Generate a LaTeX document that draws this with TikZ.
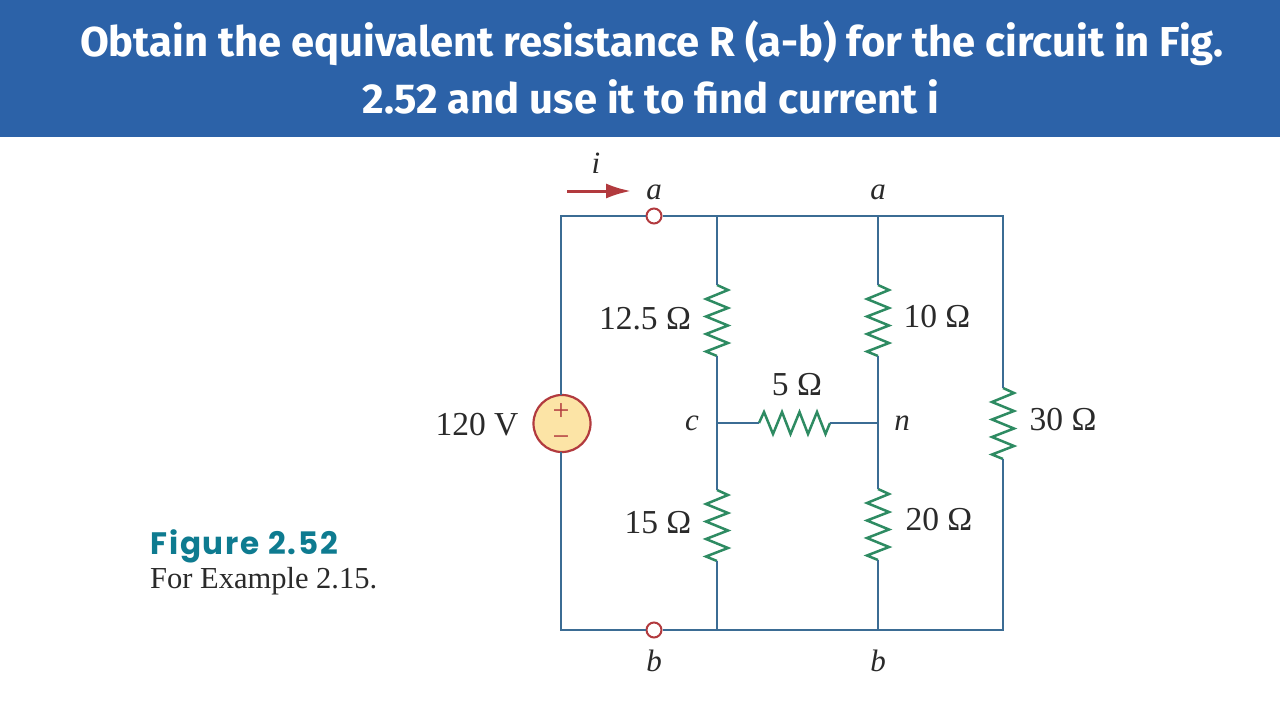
\documentclass[tikz,border=0pt]{standalone}
\usepackage{fontspec}
\setmainfont{Liberation Serif}
\newfontfamily\headfont{Fira Sans}
\newfontfamily\figfont[LetterSpace=6]{Poppins}
\usetikzlibrary{arrows.meta,positioning}
\definecolor{bandblue}{HTML}{2C62A8}
\definecolor{wireblue}{HTML}{3B6C94}
\definecolor{rstgreen}{HTML}{2E8B62}
\definecolor{srcred}{HTML}{B23A3E}
\definecolor{srcfill}{HTML}{FCE4A6}
\definecolor{figteal}{HTML}{0E7B90}
\definecolor{inktxt}{HTML}{2A2A2A}
\tikzset{
	wire/.style={draw=wireblue,line width=2.2pt,line join=miter},
	rstline/.style={draw=rstgreen,line width=2.5pt,line join=miter},
	headtxt/.style={text=white,inner sep=0pt,font=\headfont\bfseries\fontsize{41.8}{46}\selectfont},
	valtxt/.style={text=inktxt,inner sep=0pt,font=\fontsize{33.5}{38}\selectfont},
	nametxt/.style={text=inktxt,inner sep=0pt,font=\itshape\fontsize{31}{36}\selectfont},
	signtxt/.style={text=srcred,inner sep=0pt,font=\fontsize{30}{30}\selectfont},
	terminal/.style={circle,draw=srcred,fill=white,line width=2pt,minimum size=15pt,inner sep=0pt},
	source/.style={circle,draw=srcred,fill=srcfill,line width=2.2pt,minimum size=57pt,inner sep=0pt},
	resistor/.pic={
		\coordinate (-in) at (0,0);
		\coordinate (-out) at (0,71);
		\draw[rstline] (0,0)--(11,5)--(-11,14)--(11,23)--(-11,31.5)--(11,40.5)--(-11,49)--(11,58)--(-11,66.5)--(0,71);
	}
}
\begin{document}
\begin{tikzpicture}[x=1pt,y=-1pt]
	\useasboundingbox (0,0) rectangle (1280,720);
	\fill[white] (0,0) rectangle (1280,720);
	\fill[bandblue] (0,0) rectangle (1280,137);
	\node (head1) at (652,43)[headtxt] {Obtain the equivalent resistance R (a-b) for the circuit in Fig.};
	\node (head2) at (651,97)[headtxt] {2.52 and use it to find current i};
	% corners and junctions
	\coordinate (tl) at (561,216);
	\coordinate (bl) at (561,630);
	\coordinate (tc) at (717,216);
	\coordinate (bc) at (717,630);
	\coordinate (tn) at (878,216);
	\coordinate (bn) at (878,630);
	\coordinate (tr) at (1003,216);
	\coordinate (br) at (1003,630);
	\coordinate (jc) at (717,423);
	\coordinate (jn) at (878,423);
	\pic (r1) at (717,285) {resistor};
	\pic (r2) at (717,490) {resistor};
	\pic (r3) at (878,285) {resistor};
	\pic (r4) at (878,489) {resistor};
	\pic (r5) at (1003,388) {resistor};
	\pic[rotate=90] (r6) at (759,423) {resistor};
	\node (vs) at (562,423.5)[source] {};
	\node (ta) at (654,216)[terminal] {};
	\node (tb) at (654,630)[terminal] {};
	\draw[wire] (vs.north)--(vs.north-|tl)--(tl)--(ta);
	\draw[wire] (vs.south)--(vs.south-|bl)--(bl)--(tb);
	\draw[wire] (ta)--(tc)--(tn)--(tr)--(r5-in);
	\draw[wire] (tb)--(bc)--(bn)--(br)--(r5-out);
	\draw[wire] (tc)--(r1-in);
	\draw[wire] (r1-out)--(jc)--(r2-in);
	\draw[wire] (r2-out)--(bc);
	\draw[wire] (tn)--(r3-in);
	\draw[wire] (r3-out)--(jn)--(r4-in);
	\draw[wire] (r4-out)--(bn);
	\draw[wire] (jc)--(r6-in);
	\draw[wire] (r6-out)--(jn);
	% source signs
	\node (plus) at (561,412)[signtxt] {+};
	\node (minus) at (561,441)[signtxt] {−};
	% current arrow
	\coordinate (ibeg) at (567,191);
	\coordinate (iend) at (631,191);
	\draw[draw=srcred,line width=3pt,-{Latex[length=25pt,width=15pt]}] (ibeg)--(iend);
	\node (lbli) at (596,163)[nametxt] {i};
	\node (lbla1) at (654,192)[nametxt] {a};
	\node (lbla2) at (878,192)[nametxt] {a};
	\node (lblb1) at (654,661)[nametxt] {b};
	\node (lblb2) at (878,661)[nametxt] {b};
	\node (lblc) at (692,423)[nametxt] {c};
	\node (lbln) at (902,423)[nametxt] {n};
	\node (val120) at (477,425)[valtxt] {120 V};
	\node (val125) at (645,319)[valtxt] {12.5 Ω};
	\node (val15) at (658,523)[valtxt] {15 Ω};
	\node (val5) at (797,385)[valtxt] {5 Ω};
	\node (val10) at (937,317)[valtxt] {10 Ω};
	\node (val20) at (939,520)[valtxt] {20 Ω};
	\node (val30) at (1063,420)[valtxt] {30 Ω};
	\node (figname) at (150,546)[anchor=west,text=figteal,inner sep=0pt,font=\figfont\bfseries\fontsize{31}{34}\selectfont] {Figure 2.52};
	\node (figcap) at (150,581)[anchor=west,text=inktxt,inner sep=0pt,font=\fontsize{30.5}{36}\selectfont] {For Example 2.15.};
\end{tikzpicture}
\end{document}
